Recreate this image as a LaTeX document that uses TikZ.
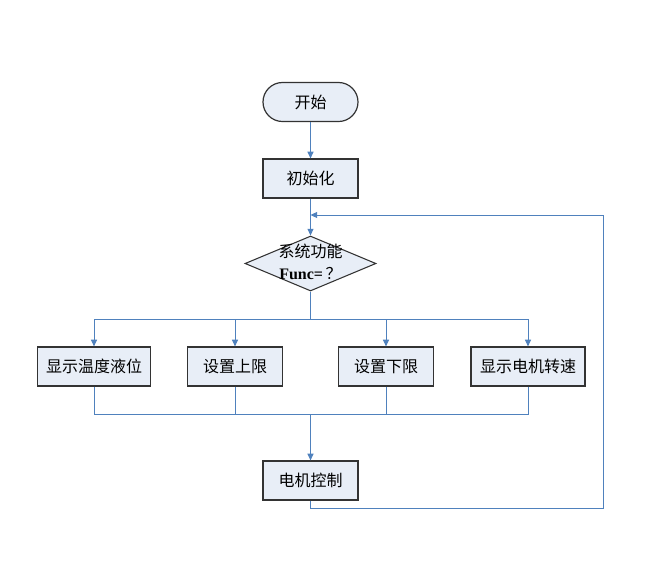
\documentclass[tikz,border=0pt]{standalone}
\usepackage{fontspec}
\setmainfont{Liberation Serif}
\newfontfamily\cjk{Noto Sans CJK SC}
\usetikzlibrary{arrows.meta,positioning,calc,shapes.geometric}

\definecolor{flowblue}{RGB}{79,129,189}
\definecolor{boxfill}{RGB}{232,238,247}

\begin{document}
\begin{tikzpicture}[x=0.75pt, y=-0.75pt, font=\cjk\fontsize{12}{14}\selectfont,
    box/.style={draw=black!80, fill=boxfill, line width=0.9pt, minimum width=71.25pt, minimum height=29.25pt, inner sep=2pt},
    terminal/.style={box, rounded corners=14.6pt},
    decision/.style={diamond, draw=black!80, fill=boxfill, line width=0.8pt, minimum width=98.25pt, minimum height=41.25pt, inner sep=0pt},
    line/.style={draw=flowblue, line width=0.75pt},
    link/.style={line, -{Triangle[length=5pt, width=4.5pt]}}]
    \useasboundingbox (0,0) rectangle (671,571);

    \node[terminal] (start) at (310.5,102) {开始};
    \node[box] (init) at (310.5,178.5) {初始化};
    \node[decision] (func) at (310.5,263.5) {};
    \node[align=center, inner sep=0pt] (functext) at (310.5,262) {系统功能\\[2pt]{\rmfamily\bfseries Func=}\,？};

    \node[box, minimum width=84.75pt] (show) at (94,366.5) {显示温度液位};
    \node[box] (upper) at (235,366.5) {设置上限};
    \node[box] (lower) at (386,366.5) {设置下限};
    \node[box, minimum width=85.5pt] (speed) at (528,366.5) {显示电机转速};
    \node[box] (motor) at (310.5,480.5) {电机控制};

    \coordinate (split) at (310.5,319);
    \coordinate (merge) at (310.5,414);
    \coordinate (join) at (310.5,215);
    \coordinate (back) at (603,215);

    \draw[link] (start) -- (init);
    \draw[link] (init) -- (func);
    \draw[line] (func) -- (split);
    \foreach \b in {show,upper,lower,speed} {
      \draw[link] (split) -| (\b);
      \draw[line] (\b) |- (merge);
    }
    \draw[link] (merge) -- (motor);
    \draw[link] (motor.south) -- ++(0,8) -| (back) -- (join);
  \end{tikzpicture}
\end{document}
